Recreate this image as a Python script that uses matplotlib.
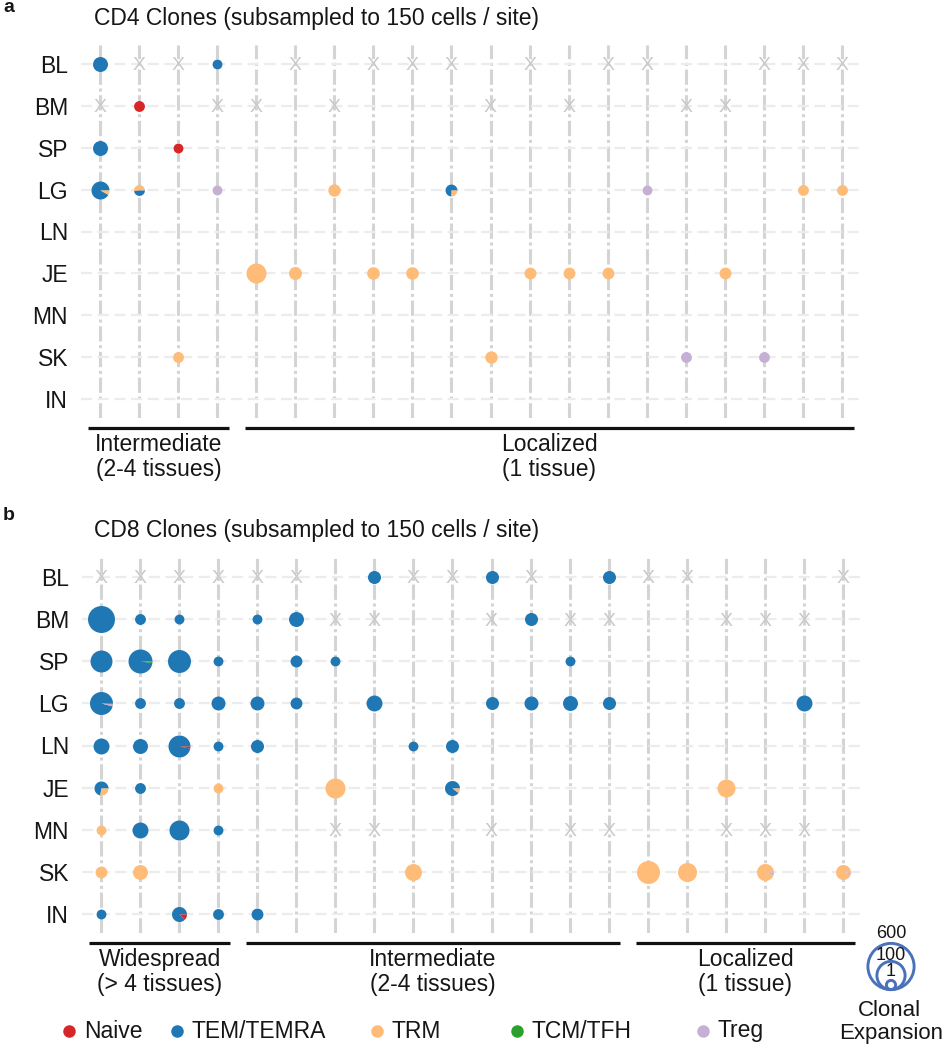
import numpy as np
import matplotlib
matplotlib.use('Agg')
import matplotlib.pyplot as plt
from matplotlib.patches import Circle

plt.rcParams['font.family'] = ['Liberation Sans', 'DejaVu Sans']

# ---- data ----
sites = ['BL', 'BM', 'SP', 'LG', 'LN', 'JE', 'MN', 'SK', 'IN']
cell_types = ['Naive', 'TEM/TEMRA', 'TRM', 'TCM/TFH', 'Treg']
n_clones = 20

# shorthand mixes: fractions of (Naive, TEM/TEMRA, TRM, TCM/TFH, Treg)
NV = (1, 0, 0, 0, 0)
TEM = (0, 1, 0, 0, 0)
TRM = (0, 0, 1, 0, 0)
TREG = (0, 0, 0, 0, 1)

# CD4 clones: (clone column, site, cells, mix)
cd4_clones = [
    (0, 'BL', 27, TEM), (3, 'BL', 3, TEM),
    (1, 'BM', 5, NV),
    (0, 'SP', 27, TEM), (2, 'SP', 3, NV),
    (0, 'LG', 71, (0, .92, .08, 0, 0)), (1, 'LG', 5, (0, .48, .52, 0, 0)),
    (3, 'LG', 3, TREG), (6, 'LG', 10, TRM), (9, 'LG', 8, (0, .75, .25, 0, 0)),
    (14, 'LG', 3, TREG), (18, 'LG', 5, TRM), (19, 'LG', 5, TRM),
    (4, 'JE', 124, TRM), (5, 'JE', 13, TRM), (7, 'JE', 11, TRM), (8, 'JE', 11, TRM),
    (11, 'JE', 8, TRM), (12, 'JE', 8, TRM), (13, 'JE', 8, TRM), (16, 'JE', 8, TRM),
    (2, 'SK', 5, TRM), (10, 'SK', 10, TRM), (15, 'SK', 5, TREG), (17, 'SK', 5, TREG),
]
cd4_not_sampled = {
    'BL': [1, 2, 5, 7, 8, 9, 11, 13, 14, 17, 18, 19],
    'BM': [0, 3, 4, 6, 10, 12, 15, 16],
}
cd4_groups = [('Intermediate\n(2-4 tissues)', 0, 3), ('Localized\n(1 tissue)', 4, 19)]

# CD8 clones
cd8_clones = [
    (7, 'BL', 13, TEM), (10, 'BL', 13, TEM), (13, 'BL', 13, TEM),
    (0, 'BM', 600, TEM), (1, 'BM', 5, TEM), (2, 'BM', 3, TEM), (4, 'BM', 3, TEM),
    (5, 'BM', 27, TEM), (11, 'BM', 13, TEM),
    (0, 'SP', 204, TEM), (1, 'SP', 323, (0, .98, 0, .02, 0)), (2, 'SP', 258, TEM),
    (3, 'SP', 3, TEM), (5, 'SP', 8, TEM), (6, 'SP', 3, TEM), (12, 'SP', 3, TEM),
    (0, 'LG', 258, (.01, .96, 0, 0, .03)), (1, 'LG', 5, TEM), (2, 'LG', 5, TEM),
    (3, 'LG', 19, TEM), (4, 'LG', 19, TEM), (5, 'LG', 8, TEM), (7, 'LG', 38, TEM),
    (10, 'LG', 13, TEM), (11, 'LG', 19, TEM), (12, 'LG', 27, TEM), (13, 'LG', 13, TEM),
    (18, 'LG', 38, TEM),
    (0, 'LN', 38, TEM), (1, 'LN', 27, TEM), (2, 'LN', 204, (.03, .97, 0, 0, 0)),
    (3, 'LN', 3, TEM), (4, 'LN', 13, TEM), (8, 'LN', 3, TEM), (9, 'LN', 13, TEM),
    (0, 'JE', 19, (0, .72, .28, 0, 0)), (1, 'JE', 5, TEM), (3, 'JE', 3, TRM),
    (6, 'JE', 124, TRM), (9, 'JE', 27, (0, .9, .1, 0, 0)), (16, 'JE', 71, TRM),
    (0, 'MN', 3, TRM), (1, 'MN', 38, TEM), (2, 'MN', 124, TEM), (3, 'MN', 3, TEM),
    (0, 'SK', 8, TRM), (1, 'SK', 27, TRM), (8, 'SK', 52, TRM), (14, 'SK', 258, TRM),
    (15, 'SK', 95, TRM), (17, 'SK', 52, (0, 0, .95, 0, .05)), (19, 'SK', 27, (0, 0, .95, 0, .05)),
    (0, 'IN', 3, TEM), (2, 'IN', 27, (.12, .88, 0, 0, 0)), (3, 'IN', 5, TEM), (4, 'IN', 8, TEM),
]
cd8_not_sampled = {
    'BL': [0, 1, 2, 3, 4, 5, 8, 9, 11, 14, 15, 19],
    'BM': [6, 7, 10, 12, 13, 16, 17, 18],
    'MN': [6, 7, 10, 12, 13, 16, 17, 18],
}
cd8_groups = [('Widespread\n(> 4 tissues)', 0, 3), ('Intermediate\n(2-4 tissues)', 4, 13),
              ('Localized\n(1 tissue)', 14, 19)]

size_legend = [600, 100, 1]

colors = ['#d62728', '#1f77b4', '#ffbb78', '#2ca02c', '#c5b0d5']
TXT = '#161616'
FS = 16.5

W, H = 944, 1050
fig = plt.figure(figsize=(W / 100, H / 100), dpi=100)


def px_axes(left, top, right, bottom):
    return fig.add_axes([left / W, 1 - bottom / H, (right - left) / W, (bottom - top) / H])


def diameter_pt(cells):
    # dot diameter in points (8 px for a single cell)
    return 8 * cells ** 0.19 * 0.72


def pie(ax, x, y, mix, d):
    fr = np.array(mix, dtype=float)
    fr = fr / fr.sum()
    start = 0.0
    for i in np.argsort(-fr, kind='stable'):
        f = fr[i]
        if f <= 0:
            continue
        if f >= 0.999:
            ax.scatter(x, y, s=d ** 2, color=colors[i], marker='o', linewidths=0, zorder=4)
            return
        t = np.linspace(2 * np.pi * start, 2 * np.pi * (start + f), max(int(f * 120), 4))
        xy = np.column_stack([np.r_[0, np.cos(t)], np.r_[0, np.sin(t)]])
        m = np.abs(xy).max()
        ax.scatter(x, y, marker=xy, s=(d * m) ** 2, color=colors[i], linewidths=0, zorder=4)
        start += f


def draw_panel(ax, clones, not_sampled, groups):
    ax.set_xlim(-0.5, n_clones - 0.5)
    ax.set_ylim(len(sites) - 1 + 0.45, -0.45)
    ax.set_xticks(range(n_clones))
    ax.set_yticks(range(len(sites)))
    ax.set_yticklabels(sites, fontsize=FS, color=TXT)
    ax.tick_params(length=0, labelbottom=False, pad=9)
    for s in ax.spines.values():
        s.set_visible(False)
    ax.grid(axis='y', color='#ececec', lw=1.6, ls=(0, (5, 2.5)))
    ax.grid(axis='x', color='#d4d4d4', lw=2.2, ls=(0, (5, 1.2, 1, 1.2)))
    ax.set_axisbelow(True)
    for site, cols in not_sampled.items():
        for c in cols:
            ax.text(c, sites.index(site), 'X', ha='center', va='center_baseline',
                    fontsize=14, color='#c9c9c9', zorder=3)
    for col, site, cells, mix in clones:
        pie(ax, col, sites.index(site), mix, diameter_pt(cells))
    for label, c0, c1 in groups:
        ax.plot([c0 - 0.3, c1 + 0.3], [8.68, 8.68], color='#111111', lw=2.3,
                clip_on=False, solid_capstyle='butt')
        ax.text((c0 + c1) / 2, 8.8, label, ha='center', va='top', fontsize=FS,
                color=TXT, linespacing=1.15, clip_on=False)


ax_a = px_axes(80.5, 45, 861.5, 418)
draw_panel(ax_a, cd4_clones, cd4_not_sampled, cd4_groups)
ax_b = px_axes(81.5, 558, 862.5, 933)
draw_panel(ax_b, cd8_clones, cd8_not_sampled, cd8_groups)

fig.text(94 / W, 1 - 19 / H, 'CD4 Clones (subsampled to 150 cells / site)', fontsize=FS,
         color=TXT, ha='left', va='center')
fig.text(94 / W, 1 - 531 / H, 'CD8 Clones (subsampled to 150 cells / site)', fontsize=FS,
         color=TXT, ha='left', va='center')
fig.text(3 / W, 1 - 8 / H, 'a', fontsize=14, fontweight='bold', color=TXT, va='center')
fig.text(3 / W, 1 - 516 / H, 'b', fontsize=14, fontweight='bold', color=TXT, va='center')

# legends in pixel space
ov = fig.add_axes([0, 0, 1, 1])
ov.set_xlim(0, W)
ov.set_ylim(H, 0)
ov.axis('off')

leg_x = [69, 177, 377, 517, 703]
for lx, name, c in zip(leg_x, cell_types, colors):
    ov.scatter(lx, 1031, s=(12.5 * 0.72) ** 2, color=c, linewidths=0)
    ov.text(lx + 15, 1031, name, fontsize=FS, color=TXT, ha='left', va='center')

ring_r = [23.1, 14.1, 4.6]
ring_label_y = [934, 955, 972]
for val, r, ly in zip(size_legend, ring_r, ring_label_y):
    ov.add_patch(Circle((891, 991 - r - 1.4), r, fill=False, ec='#4a72bb', lw=2.1))
    ov.text(891, ly, str(val), fontsize=13, color=TXT, ha='center', va='center')
ov.text(889, 1010, 'Clonal', fontsize=16, color=TXT, ha='center', va='center')
ov.text(891, 1034, 'Expansion', fontsize=16, color=TXT, ha='center', va='center')

fig.savefig('out.png', dpi=100)
